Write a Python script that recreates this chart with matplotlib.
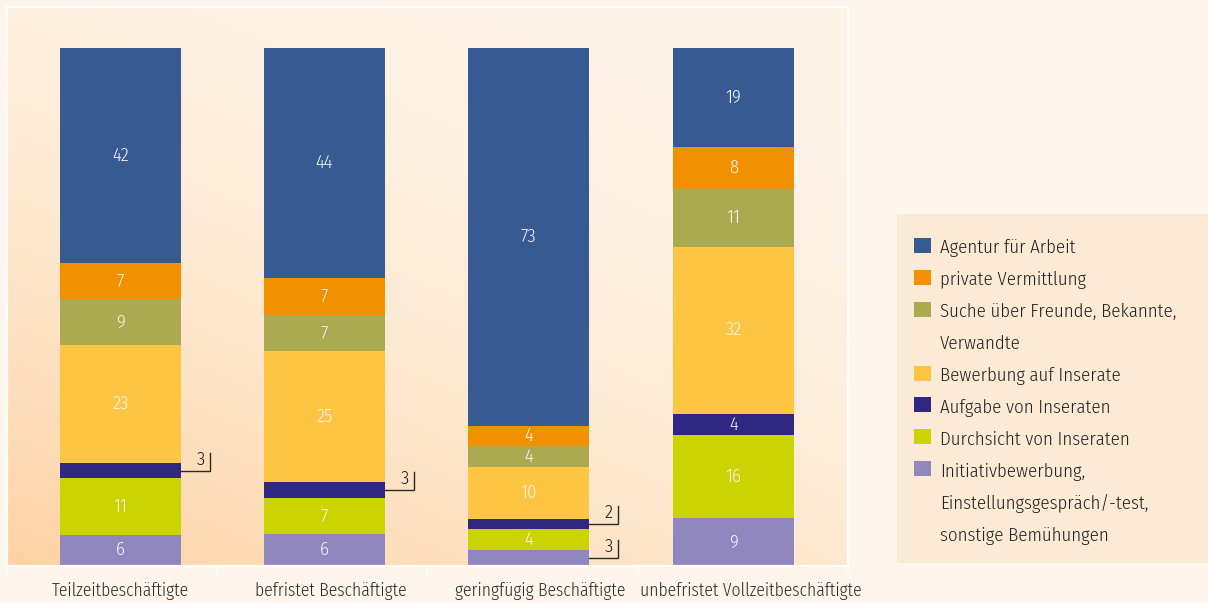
import numpy as np
import matplotlib
matplotlib.use("Agg")
import matplotlib.pyplot as plt
from matplotlib.patches import Rectangle
from matplotlib import font_manager

# ---------------- data ----------------
categories = ["Teilzeitbeschäftigte", "befristet Beschäftigte",
              "geringfügig Beschäftigte", "unbefristet Vollzeitbeschäftigte"]
# series, bottom to top
series_names = ["Initiativbewerbung,\nEinstellungsgespräch/-test,\nsonstige Bemühungen",
                "Durchsicht von Inseraten",
                "Aufgabe von Inseraten",
                "Bewerbung auf Inserate",
                "Suche über Freunde, Bekannte,\nVerwandte",
                "private Vermittlung",
                "Agentur für Arbeit"]
initiativ = [6, 6, 3, 9]
durchsicht = [11, 7, 4, 16]
aufgabe = [3, 3, 2, 4]
bewerbung = [23, 25, 10, 32]
suche = [9, 7, 4, 11]
privat = [7, 7, 4, 8]
agentur = [42, 44, 73, 19]
series_values = [initiativ, durchsicht, aufgabe, bewerbung, suche, privat, agentur]
series_colors = ["#9087bf", "#ccd400", "#302782", "#fdc542", "#abaa50", "#f29100", "#385a92"]

# ---------------- fonts ----------------
W, H = 1208, 603
ttf = font_manager.fontManager.ttflist
def has_light(name):
    return any(f.name == name and (f.weight if isinstance(f.weight, int) else 400) < 450 for f in ttf)
if has_light("Open Sans Condensed"):
    FONT, WEIGHT, FS = ["Open Sans Condensed", "DejaVu Sans"], 300, 14
elif has_light("Fira Sans Condensed"):
    FONT, WEIGHT, FS = ["Fira Sans Condensed", "DejaVu Sans"], 300, 13.5
else:
    FONT, WEIGHT, FS = ["PT Sans Narrow", "DejaVu Sans"], 400, 14.5
plt.rcParams['font.family'] = FONT
plt.rcParams['font.weight'] = WEIGHT
FS_CAT = FS * 0.94

fig = plt.figure(figsize=(W / 100, H / 100), dpi=100)
fig.patch.set_facecolor("#fef5ec")

def fx(x):
    return x / W

def fy(y):
    return 1 - y / H

ax_l, ax_r, ax_t, ax_b = 7, 848, 7, 565.5
ax = fig.add_axes([fx(ax_l), fy(ax_b), fx(ax_r - ax_l), (ax_b - ax_t) / H])
ytop = 100 * (ax_b - ax_t) / 517.5
ax.set_xlim(0, 4)
ax.set_ylim(0, ytop)

# gradient background
nx, ny = 200, 200
u = np.linspace(0, 1, nx)[None, :]
v = np.linspace(0, 1, ny)[:, None]
d = (0.4 * (1 - u) + 0.6 * (1 - v)) ** 2.1
light = np.array([254, 244, 232]) / 255
dark = np.array([253, 210, 162]) / 255
img = light[None, None, :] + d[:, :, None] * (dark - light)[None, None, :]
ax.imshow(img, extent=(0, 4, 0, ytop), origin="lower", aspect="auto", zorder=0)

bar_x = np.array([0.540, 1.510, 2.480, 3.455])
bar_w = 0.5755
label_x = np.arange(4) + 0.538

vals = np.array(series_values, dtype=float)
totals = vals.sum(axis=0)
pct = vals / totals * 100
bottom = np.zeros(4)
px_per_unit_x = (ax_r - ax_l) / 4
px_per_unit_y = (ax_b - ax_t) / ytop
for k in range(len(series_values)):
    ax.bar(bar_x, pct[k], bar_w, bottom=bottom, color=series_colors[k],
           linewidth=0, zorder=2)
    for i in range(4):
        val = series_values[k][i]
        yc = bottom[i] + pct[k][i] / 2
        if val >= 4:
            ax.text(bar_x[i], yc, str(val), ha="center", va="center",
                    fontsize=FS, color="#f4f4f4", zorder=3)
        else:
            x0 = bar_x[i] + bar_w / 2
            x1 = x0 + 29 / px_per_unit_x
            y1 = yc + 18 / px_per_unit_y
            ax.plot([x0, x1, x1], [yc, yc, y1], color="#2a2a2a", lw=1.0,
                    zorder=3, solid_joinstyle="miter")
            ax.text(x1 - 5 / px_per_unit_x, yc + 2 / px_per_unit_y, str(val),
                    ha="right", va="bottom", fontsize=FS, color="#1a1a1a", zorder=3)
    bottom += pct[k]

for s in ax.spines.values():
    s.set_color("white")
    s.set_linewidth(1.6)
ax.set_xticks(np.arange(5))
ax.set_xticklabels([])
ax.set_yticks([])
ax.tick_params(axis="x", direction="out", length=6, width=1.1, color="white")

for i, c in enumerate(categories):
    ax.text(label_x[i], -31 / px_per_unit_y, c, ha="center", va="baseline",
            fontsize=FS_CAT, color="#2b2b2b", clip_on=False)

# ---------------- legend ----------------
leg = fig.add_axes([fx(897), fy(563), fx(W - 897), (563 - 214) / H])
leg.set_xlim(897, W)
leg.set_ylim(563, 214)
leg.axis("off")
leg.add_patch(Rectangle((897, 214), W - 897, 563 - 214, facecolor="#fdead4",
                        edgecolor="none"))
line = 0
base0 = 253.3
step = 31.95
for k in reversed(range(len(series_names))):
    lines = series_names[k].split("\n")
    b = base0 + step * line
    leg.add_patch(Rectangle((914, b - 15.6), 16.5, 15, facecolor=series_colors[k],
                            edgecolor="none"))
    for j, t in enumerate(lines):
        leg.text(940, base0 + step * (line + j), t, ha="left", va="baseline",
                 fontsize=FS, color="#222222")
    line += len(lines)

fig.savefig("out.png", dpi=100, facecolor=fig.get_facecolor())
